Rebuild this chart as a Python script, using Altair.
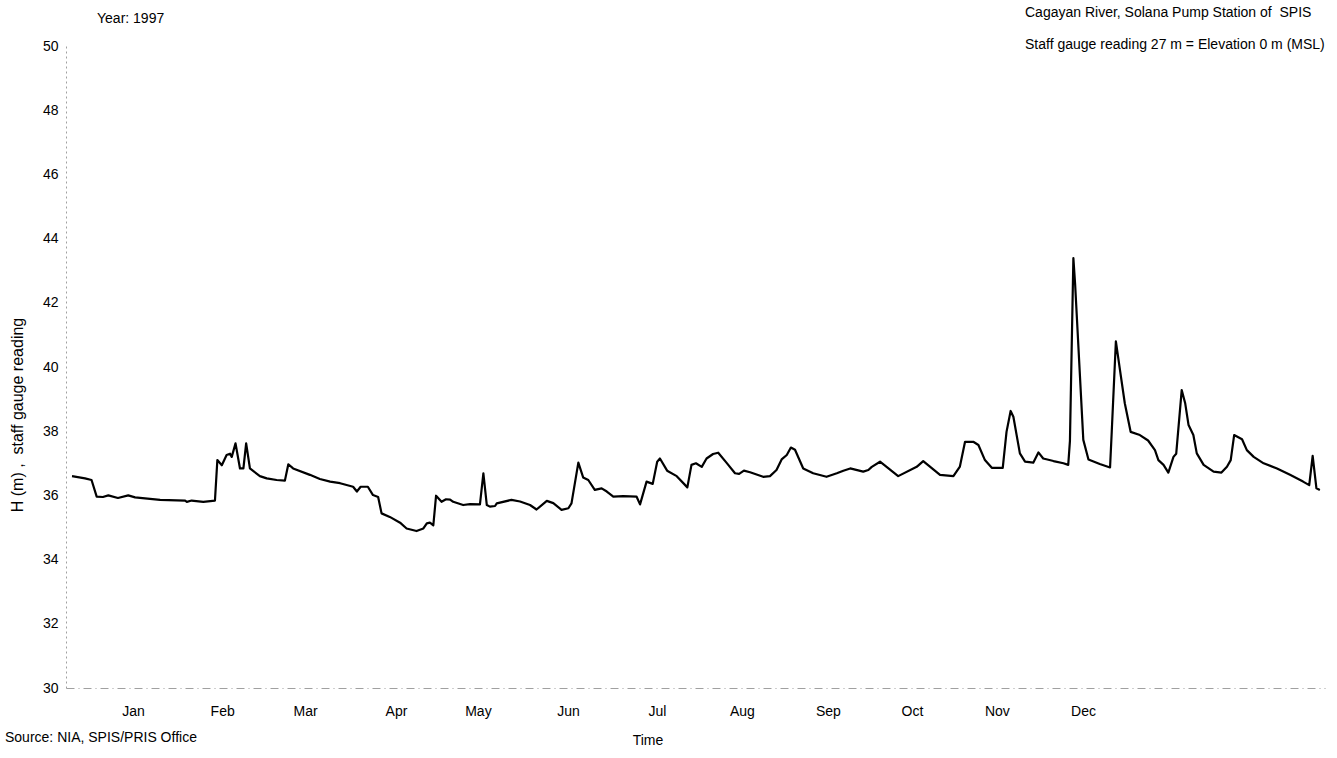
import altair as alt
import pandas as pd

# Day of year (1997) and staff gauge reading H (m)
days = [1, 4.8, 6.7, 8.2, 10.0, 11.6, 14.4, 17.4, 19.4, 22.3, 26.7, 34.0, 34.5, 35.9, 39.3,
        42.7, 43.4, 44.7, 46.1, 47.1, 47.6, 48.7, 50.0, 51.0, 51.8, 52.9, 55.8, 57.8, 60.7,
        63.1, 64.1, 65.5, 70.4, 73.3, 76.3, 79.2, 83.0, 84.1, 85.2, 87.3, 88.8, 90.3, 91.3,
        93.7, 96.7, 98.6, 101.5, 103.5, 104.5, 105.4, 106.4, 107.2, 108.8, 110.1, 111.3,
        112.2, 115.1, 117.1, 120.0, 121.0, 122.0, 122.9, 124.4, 124.9, 129.2, 131.7, 134.6,
        136.5, 139.5, 141.4, 143.8, 145.8, 146.7, 148.7, 150.1, 151.6, 153.5, 155.5, 157.0,
        158.9, 161.8, 165.7, 166.7, 168.6, 170.4, 171.7, 172.5, 174.6, 177.4, 180.5, 181.7,
        183.0, 184.7, 186.1, 188.0, 189.5, 191.9, 194.4, 195.6, 197.0, 198.8, 202.6, 204.6,
        206.5, 208.0, 209.5, 210.7, 211.9, 214.3, 217.2, 221.1, 224.1, 226.0, 228.0, 231.8,
        233.3, 234.3, 236.7, 242.0, 247.4, 249.3, 254.2, 258.1, 260.0, 261.5, 263.9, 265.4,
        267.3, 269.3, 272.5, 273.6, 274.8, 275.6, 277.5, 279.0, 281.4, 282.9, 284.3, 287.3,
        290.2, 291.6, 292.1, 293.1, 293.6, 296.0, 297.5, 300.8, 303.8, 304.3, 305.5, 306.7,
        308.1, 309.8, 312.5, 314.9, 316.9, 317.9, 319.4, 320.8, 322.3, 323.1, 324.7, 325.7,
        326.7, 328.1, 329.1, 331.1, 334.0, 336.3, 337.9, 339.0, 340.0, 342.3, 343.7, 345.7,
        348.6, 352.5, 356.3, 360.1, 361.9, 362.9, 364.0, 365.0]

levels = [36.60, 36.53, 36.48, 35.96, 35.95, 36.00, 35.92, 36.00, 35.94, 35.91, 35.86, 35.84,
          35.80, 35.84, 35.80, 35.84, 37.10, 36.94, 37.26, 37.30, 37.20, 37.62, 36.84, 36.84,
          37.62, 36.84, 36.60, 36.53, 36.48, 36.46, 36.97, 36.84, 36.64, 36.51, 36.43, 36.38,
          36.27, 36.12, 36.27, 36.27, 36.01, 35.95, 35.44, 35.33, 35.15, 34.97, 34.89, 34.97,
          35.13, 35.15, 35.07, 35.99, 35.80, 35.88, 35.87, 35.80, 35.70, 35.73, 35.72, 36.69,
          35.70, 35.65, 35.67, 35.75, 35.86, 35.81, 35.70, 35.56, 35.83, 35.76, 35.55, 35.60,
          35.75, 37.02, 36.56, 36.48, 36.17, 36.22, 36.12, 35.96, 35.98, 35.96, 35.72, 36.43,
          36.36, 37.05, 37.15, 36.77, 36.60, 36.25, 36.95, 37.00, 36.89, 37.15, 37.29, 37.33,
          37.02, 36.69, 36.67, 36.77, 36.72, 36.58, 36.60, 36.79, 37.12, 37.26, 37.49, 37.42,
          36.84, 36.69, 36.58, 36.69, 36.77, 36.84, 36.74, 36.79, 36.89, 37.05, 36.60, 36.89,
          37.07, 36.64, 36.60, 36.90, 37.67, 37.67, 37.57, 37.10, 36.86, 36.86, 37.98, 38.63,
          38.45, 37.31, 37.05, 37.02, 37.34, 37.15, 37.07, 37.00, 36.95, 37.70, 43.39, 42.60,
          37.73, 37.12, 36.98, 36.87, 38.00, 40.80, 39.90, 38.87, 37.98, 37.88, 37.71, 37.41,
          37.10, 36.95, 36.71, 37.20, 37.30, 39.28, 38.88, 38.19, 37.88, 37.31, 36.95, 36.74,
          36.71, 36.89, 37.10, 37.88, 37.75, 37.41, 37.20, 37.00, 36.84, 36.64, 36.43, 36.32,
          37.23, 36.22, 36.17]

month_names = ["Jan", "Feb", "Mar", "Apr", "May", "Jun",
               "Jul", "Aug", "Sep", "Oct", "Nov", "Dec"]
month_ticks = [18.8, 44.8, 69.0, 95.5, 119.4, 145.7, 171.6, 196.4, 221.5, 246.0, 270.8, 295.9]

y_ticks = [30, 32, 34, 36, 38, 40, 42, 44, 46, 48, 50]

df = pd.DataFrame({"day": days, "H": levels})

FONT = "Liberation Sans"
W, H = 1259, 642

label_expr = "[" + ",".join(f"'{m}'" for m in month_names) + "][indexof([" + \
    ",".join(str(t) for t in month_ticks) + "], datum.value)]"

line = alt.Chart(df).mark_line(color="black", strokeWidth=2.2, strokeJoin="round").encode(
    x=alt.X("day:Q",
            scale=alt.Scale(domain=[-0.75, 366.5], nice=False, zero=False),
            axis=alt.Axis(values=month_ticks, labelExpr=label_expr, title=None,
                          ticks=False, grid=False, labelPadding=16,
                          domainColor="#a0a0a0", domainDash=[8, 4, 1, 4],
                          domainWidth=1, labelFontSize=14, labelColor="black",
                          labelFont=FONT)),
    y=alt.Y("H:Q",
            scale=alt.Scale(domain=[30, 50], nice=False, zero=False),
            axis=alt.Axis(values=y_ticks, title=None, ticks=False, grid=False,
                          labelPadding=8, domainColor="#a0a0a0",
                          domainDash=[2, 3], domainWidth=1, labelFontSize=14,
                          labelColor="black", labelFont=FONT)),
)


def note(text, x, y, align="left", angle=0, size=14):
    return alt.Chart(df.head(1)).mark_text(
        text=text, align=align, baseline="middle", font=FONT, fontSize=size,
        color="black", angle=angle
    ).encode(x=alt.value(x), y=alt.value(y))


chart = alt.layer(
    line,
    note("Year: 1997", 31, -27),
    note("Cagayan River, Solana Pump Station of\u00a0 SPIS", 959, -33),
    note("Staff gauge reading 27 m = Elevation 0 m (MSL)", 959, -1),
    note("H (m) ,\u00a0 staff gauge reading", -48, 369, align="center", angle=270, size=16),
    note("Time", 582, 695, align="center"),
    note("Source: NIA, SPIS/PRIS Office", -61, 692),
).properties(
    width=W, height=H,
    autosize=alt.AutoSizeParams(type="none"),
    padding={"left": 66, "top": 46, "right": 12, "bottom": 70},
).configure(background="white").configure_view(stroke=None)

chart.save("out.html", embed_options={"renderer": "svg", "actions": False})
